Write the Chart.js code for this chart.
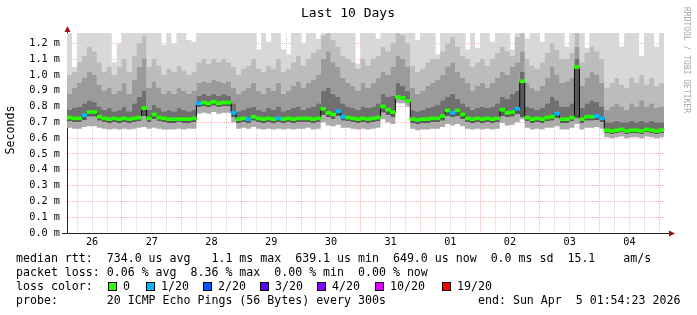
<!DOCTYPE html>
<html>
<head>
<meta charset="utf-8">
<script src="https://cdn.jsdelivr.net/npm/chart.js@4/dist/chart.umd.min.js"></script>
<style>
  html, body { margin: 0; padding: 0; background: #fff; }
  canvas { display: block; }
</style>
</head>
<body>
<canvas id="ping" width="697" height="315"></canvas>
<script>
/* ─── SmokePing style latency graph, last 10 days ─────────────────────────
 *  x axis: hours since start (Mar 26 01:54), one sample every 2 h
 *  y axis: milliseconds, labelled as "x.x m" (milliseconds of seconds)
 *  smoke = stacked grey bands of the ping spread, median coloured by loss
 * ─────────────────────────────────────────────────────────────────────── */

const TITLE = 'Last 10 Days';
const Y_TITLE = 'Seconds';
const WATERMARK = 'RRDTOOL / TOBI OETIKER';

const dayLabels = ['26', '27', '28', '29', '30', '31', '01', '02', '03', '04'];
const yTicks = [0, 0.1, 0.2, 0.3, 0.4, 0.5, 0.6, 0.7, 0.8, 0.9, 1.0, 1.1, 1.2];

// median rtt (ms)
const median = [
  0.73, 0.725, 0.725, 0.745, 0.765, 0.765, 0.735, 0.725, 0.72, 0.725,
  0.72, 0.725, 0.72, 0.725, 0.73, 0.79, 0.725, 0.75, 0.73, 0.725,
  0.72, 0.72, 0.72, 0.72, 0.72, 0.725, 0.82, 0.825, 0.82, 0.83,
  0.82, 0.825, 0.825, 0.76, 0.72, 0.725, 0.72, 0.735, 0.725, 0.72,
  0.725, 0.72, 0.725, 0.72, 0.725, 0.72, 0.725, 0.725, 0.725, 0.72,
  0.725, 0.785, 0.76, 0.75, 0.77, 0.735, 0.73, 0.725, 0.72, 0.725,
  0.72, 0.725, 0.73, 0.80, 0.78, 0.765, 0.86, 0.855, 0.835, 0.72,
  0.715, 0.72, 0.72, 0.725, 0.725, 0.74, 0.775, 0.76, 0.775, 0.75,
  0.725, 0.72, 0.725, 0.72, 0.725, 0.72, 0.725, 0.78, 0.76, 0.765,
  0.785, 0.96, 0.73, 0.72, 0.725, 0.72, 0.73, 0.735, 0.755, 0.72,
  0.72, 0.73, 1.05, 0.72, 0.735, 0.735, 0.74, 0.725, 0.65, 0.645,
  0.65, 0.655, 0.645, 0.65, 0.65, 0.645, 0.655, 0.65, 0.645, 0.65,
];

// lost pings out of 20
const loss = [
  0, 0, 0, 1, 0, 0, 0, 0, 0, 0, 0, 0, 0, 0, 0, 0, 0, 0, 0, 0,
  0, 0, 0, 0, 0, 0, 1, 0, 0, 0, 0, 0, 0, 1, 0, 0, 1, 0, 0, 0,
  0, 0, 1, 0, 0, 0, 0, 0, 0, 0, 0, 0, 0, 0, 1, 1, 0, 0, 0, 0,
  0, 0, 0, 0, 0, 0, 0, 0, 0, 0, 0, 0, 0, 0, 0, 0, 0, 1, 0, 0,
  0, 0, 0, 0, 0, 0, 0, 0, 0, 0, 1, 0, 0, 0, 0, 0, 0, 0, 1, 0,
  0, 0, 0, 0, 0, 0, 1, 1, 0, 0, 0, 0, 0, 0, 0, 0, 0, 0, 0, 0,
];

// smoke: lowest ping
const pingMin = [
  0.665, 0.66, 0.66, 0.67, 0.675, 0.675, 0.665, 0.66, 0.655, 0.66,
  0.655, 0.66, 0.655, 0.66, 0.665, 0.67, 0.66, 0.665, 0.66, 0.655,
  0.655, 0.655, 0.66, 0.655, 0.66, 0.66, 0.755, 0.76, 0.755, 0.765,
  0.755, 0.76, 0.76, 0.70, 0.66, 0.665, 0.66, 0.67, 0.66, 0.655,
  0.66, 0.655, 0.66, 0.655, 0.66, 0.655, 0.66, 0.66, 0.665, 0.655,
  0.66, 0.70, 0.68, 0.675, 0.685, 0.665, 0.665, 0.66, 0.655, 0.66,
  0.655, 0.66, 0.665, 0.72, 0.70, 0.69, 0.82, 0.82, 0.80, 0.66,
  0.65, 0.655, 0.655, 0.66, 0.66, 0.67, 0.69, 0.68, 0.69, 0.675,
  0.66, 0.655, 0.66, 0.655, 0.66, 0.655, 0.66, 0.695, 0.68, 0.685,
  0.70, 0.72, 0.665, 0.655, 0.66, 0.655, 0.665, 0.665, 0.675, 0.655,
  0.655, 0.665, 0.69, 0.655, 0.665, 0.665, 0.67, 0.66, 0.605, 0.60,
  0.605, 0.61, 0.60, 0.605, 0.605, 0.60, 0.61, 0.605, 0.60, 0.605,
];

// smoke: bottom of the dark band under the median
const pingLo = [
  0.705, 0.70, 0.70, 0.715, 0.735, 0.735, 0.71, 0.70, 0.695, 0.70,
  0.695, 0.70, 0.695, 0.70, 0.705, 0.74, 0.70, 0.72, 0.705, 0.70,
  0.695, 0.695, 0.70, 0.695, 0.695, 0.70, 0.795, 0.80, 0.795, 0.805,
  0.795, 0.80, 0.80, 0.73, 0.695, 0.70, 0.695, 0.71, 0.70, 0.695,
  0.70, 0.695, 0.70, 0.695, 0.70, 0.695, 0.70, 0.70, 0.70, 0.695,
  0.70, 0.745, 0.73, 0.72, 0.74, 0.71, 0.705, 0.70, 0.695, 0.70,
  0.695, 0.70, 0.705, 0.76, 0.745, 0.73, 0.845, 0.84, 0.82, 0.695,
  0.69, 0.695, 0.695, 0.70, 0.70, 0.71, 0.74, 0.73, 0.74, 0.72,
  0.70, 0.695, 0.70, 0.695, 0.70, 0.695, 0.70, 0.74, 0.73, 0.735,
  0.75, 0.73, 0.705, 0.695, 0.70, 0.695, 0.705, 0.71, 0.725, 0.695,
  0.695, 0.705, 0.725, 0.695, 0.71, 0.71, 0.715, 0.70, 0.63, 0.625,
  0.63, 0.635, 0.625, 0.63, 0.63, 0.625, 0.635, 0.63, 0.625, 0.63,
];

// smoke: top of the dark band over the median
const pingHi1 = [
  0.78, 0.79, 0.80, 0.82, 0.84, 0.83, 0.80, 0.78, 0.79, 0.77,
  0.78, 0.80, 0.77, 0.82, 0.86, 0.90, 0.78, 0.81, 0.79, 0.77,
  0.78, 0.77, 0.79, 0.78, 0.77, 0.78, 0.87, 0.88, 0.87, 0.88,
  0.87, 0.88, 0.87, 0.82, 0.77, 0.78, 0.79, 0.80, 0.78, 0.77,
  0.79, 0.78, 0.80, 0.77, 0.78, 0.79, 0.80, 0.78, 0.79, 0.80,
  0.82, 0.90, 0.92, 0.88, 0.86, 0.82, 0.80, 0.79, 0.78, 0.80,
  0.79, 0.80, 0.82, 0.88, 0.86, 0.87, 0.95, 0.93, 0.90, 0.78,
  0.77, 0.78, 0.79, 0.80, 0.81, 0.84, 0.86, 0.88, 0.85, 0.82,
  0.80, 0.78, 0.79, 0.80, 0.79, 0.80, 0.82, 0.86, 0.85, 0.88,
  0.90, 1.02, 0.80, 0.79, 0.78, 0.79, 0.82, 0.86, 0.84, 0.80,
  0.80, 0.82, 1.10, 0.79, 0.82, 0.84, 0.83, 0.80, 0.70, 0.70,
  0.71, 0.70, 0.70, 0.71, 0.70, 0.71, 0.70, 0.71, 0.70, 0.70,
];

// smoke: top of the medium grey band
const pingHi2 = [
  0.88, 0.92, 0.95, 0.98, 1.02, 1.00, 0.94, 0.90, 0.92, 0.88,
  0.90, 0.95, 0.88, 0.97, 1.05, 1.10, 0.92, 0.96, 0.92, 0.88,
  0.90, 0.88, 0.92, 0.90, 0.88, 0.90, 0.95, 0.96, 0.95, 0.97,
  0.96, 0.95, 0.96, 0.92, 0.88, 0.90, 0.92, 0.95, 0.90, 0.88,
  0.92, 0.90, 0.95, 0.88, 0.90, 0.93, 0.96, 0.92, 0.95, 0.97,
  1.00, 1.10, 1.15, 1.08, 1.05, 0.98, 0.95, 0.93, 0.90, 0.95,
  0.92, 0.95, 0.98, 1.02, 1.00, 1.05, 1.12, 1.10, 1.05, 0.92,
  0.88, 0.90, 0.93, 0.95, 0.97, 1.00, 1.05, 1.08, 1.02, 0.98,
  0.95, 0.90, 0.93, 0.95, 0.92, 0.95, 0.98, 1.02, 1.00, 1.05,
  1.08, 1.15, 0.95, 0.92, 0.90, 0.93, 0.98, 1.05, 1.00, 0.95,
  0.96, 0.98, 1.18, 0.93, 0.98, 1.02, 1.00, 0.95, 0.78, 0.80,
  0.82, 0.80, 0.78, 0.82, 0.80, 0.84, 0.80, 0.82, 0.79, 0.80,
];

// smoke: top of the light grey band
const pingHi3 = [
  1.00, 1.02, 1.08, 1.12, 1.18, 1.15, 1.08, 1.02, 1.05, 1.00,
  1.05, 1.10, 1.02, 1.12, 1.20, 1.25, 1.05, 1.10, 1.06, 1.00,
  1.04, 1.02, 1.06, 1.03, 1.00, 1.02, 1.08, 1.10, 1.07, 1.10,
  1.08, 1.10, 1.08, 1.05, 1.00, 1.04, 1.06, 1.10, 1.04, 1.02,
  1.06, 1.04, 1.10, 1.02, 1.04, 1.08, 1.12, 1.06, 1.10, 1.14,
  1.16, 1.25, 1.27, 1.22, 1.18, 1.12, 1.10, 1.08, 1.04, 1.10,
  1.06, 1.10, 1.12, 1.18, 1.15, 1.20, 1.27, 1.25, 1.20, 1.06,
  1.02, 1.04, 1.08, 1.10, 1.10, 1.15, 1.20, 1.24, 1.18, 1.12,
  1.10, 1.05, 1.08, 1.10, 1.06, 1.10, 1.14, 1.18, 1.15, 1.12,
  1.24, 1.27, 1.10, 1.06, 1.04, 1.08, 1.14, 1.20, 1.16, 1.10,
  1.10, 1.14, 1.27, 1.08, 1.14, 1.18, 1.15, 1.10, 0.92, 0.95,
  0.98, 0.94, 0.92, 0.98, 0.95, 1.00, 0.94, 0.98, 0.93, 0.95,
];

// smoke: highest ping (mostly above the top of the graph)
const pingMax = [
  1.3, 1.05, 1.3, 1.3, 1.3, 1.3, 1.3, 1.3, 1.3, 1.08,
  1.2, 1.3, 1.3, 1.3, 1.3, 1.3, 1.3, 1.3, 1.3, 1.19,
  1.3, 1.2, 1.3, 1.3, 1.22, 1.21, 1.3, 1.3, 1.3, 1.3,
  1.3, 1.3, 1.3, 1.3, 1.3, 1.3, 1.3, 1.3, 1.16, 1.3,
  1.21, 1.3, 1.3, 1.16, 1.13, 1.3, 1.3, 1.2, 1.3, 1.3,
  1.23, 1.3, 1.3, 1.3, 1.3, 1.3, 1.3, 1.3, 1.07, 1.3,
  1.3, 1.3, 1.23, 1.3, 1.3, 1.3, 1.3, 1.3, 1.3, 1.3,
  1.22, 1.3, 1.3, 1.3, 1.13, 1.3, 1.3, 1.3, 1.3, 1.3,
  1.16, 1.3, 1.17, 1.3, 1.3, 1.21, 1.3, 1.3, 1.3, 1.16,
  1.3, 1.3, 1.23, 1.3, 1.3, 1.21, 1.3, 1.3, 1.3, 1.3,
  1.18, 1.3, 1.3, 1.3, 1.17, 1.3, 1.3, 1.3, 1.3, 1.3,
  1.3, 1.18, 1.3, 1.3, 1.3, 1.12, 1.3, 1.3, 1.18, 1.3,
];

const lossSteps = [0, 1, 2, 3, 4, 10, 19];
const lossLabels = ['0', '1/20', '2/20', '3/20', '4/20', '10/20', '19/20'];
const lossColors = ['#26ff00', '#00b8ff', '#0059ff', '#5e00ff', '#7e00ff', '#dd00ff', '#ff0000'];

const statsRtt = 'median rtt:  734.0 us avg   1.1 ms max  639.1 us min  649.0 us now  0.0 ms sd  15.1    am/s';
const statsLoss = 'packet loss: 0.06 % avg  8.36 % max  0.00 % min  0.00 % now';
const probeText = 'probe:       20 ICMP Echo Pings (56 Bytes) every 300s';
const endText = 'end: Sun Apr  5 01:54:23 2026';

/* ── helpers ───────────────────────────────────────────────────────────── */
const FONT = '"DejaVu Sans Mono", monospace';
const STEP_H = 2;          // hours per sample
const SPAN_H = 240;        // 10 days
const FIRST_GRID_H = 4.093; // 06:00 on the 26th, hours after start
const GRID_RED = 'rgba(215,90,90,0.42)';
const GRID_GREY = 'rgba(150,150,150,0.42)';

function stepPoints(arr) {
  const pts = arr.map((v, i) => ({ x: i * STEP_H, y: v }));
  pts.push({ x: arr.length * STEP_H, y: arr[arr.length - 1] });
  return pts;
}

function smoke(arr, color, fill) {
  return {
    type: 'line', data: stepPoints(arr), stepped: 'before',
    fill: fill, backgroundColor: color,
    borderColor: 'transparent', borderWidth: 0, pointRadius: 0,
  };
}

function lossColor(n) {
  let c = lossColors[0];
  lossSteps.forEach((s, i) => { if (n >= s) c = lossColors[i]; });
  return c;
}

/* ── decorations drawn straight on the canvas ──────────────────────────── */
const decor = {
  id: 'decor',
  beforeDraw(chart) {
    const ctx = chart.ctx;
    ctx.save();
    ctx.fillStyle = '#fff';
    ctx.fillRect(0, 0, chart.width, chart.height);
    ctx.restore();
  },
  afterDraw(chart) {
    const ctx = chart.ctx;
    const a = chart.chartArea;
    ctx.save();

    // axis extensions and arrows
    ctx.strokeStyle = '#222';
    ctx.lineWidth = 1;
    ctx.beginPath();
    ctx.moveTo(a.left - 5, a.bottom + 0.5);
    ctx.lineTo(a.right + 6, a.bottom + 0.5);
    ctx.moveTo(a.left + 0.5, a.top);
    ctx.lineTo(a.left + 0.5, a.top - 3);
    ctx.stroke();
    ctx.fillStyle = '#a01414';
    ctx.beginPath();
    ctx.moveTo(a.right + 11, a.bottom + 0.5);
    ctx.lineTo(a.right + 5, a.bottom - 2.5);
    ctx.lineTo(a.right + 5, a.bottom + 3.5);
    ctx.closePath();
    ctx.fill();
    ctx.beginPath();
    ctx.moveTo(a.left + 0.5, a.top - 7);
    ctx.lineTo(a.left - 2.5, a.top - 1);
    ctx.lineTo(a.left + 3.5, a.top - 1);
    ctx.closePath();
    ctx.fill();

    // title
    ctx.fillStyle = '#000';
    ctx.textBaseline = 'middle';
    ctx.textAlign = 'center';
    ctx.font = '13px ' + FONT;
    ctx.fillText(TITLE, 348, 14);

    // y axis title
    ctx.save();
    ctx.translate(11, 130);
    ctx.rotate(-Math.PI / 2);
    ctx.font = '11.6px ' + FONT;
    ctx.fillText(Y_TITLE, 0, 0);
    ctx.restore();

    // watermark
    ctx.save();
    ctx.translate(686, 60);
    ctx.rotate(Math.PI / 2);
    ctx.font = '8px ' + FONT;
    ctx.fillStyle = '#a8a8a8';
    ctx.fillText(WATERMARK, 0, 0);
    ctx.restore();

    // legend block
    ctx.textAlign = 'left';
    ctx.font = '11.6px ' + FONT;
    ctx.fillText(statsRtt, 16, 259);
    ctx.fillText(statsLoss, 16, 273);
    ctx.fillText('loss color:', 16, 287);
    const boxX = [108, 146, 203, 260, 317, 375, 442];
    lossLabels.forEach((lbl, i) => {
      ctx.fillStyle = lossColors[i];
      ctx.fillRect(boxX[i], 282, 9, 9);
      ctx.strokeStyle = '#000';
      ctx.strokeRect(boxX[i] + 0.5, 282.5, 8, 8);
      ctx.fillStyle = '#000';
      ctx.fillText(lbl, boxX[i] + 15, 287);
    });
    ctx.fillText(probeText, 16, 301);
    ctx.fillText(endText, 478, 301);

    ctx.restore();
  },
};

/* ── chart ─────────────────────────────────────────────────────────────── */
new Chart(document.getElementById('ping'), {
  type: 'line',
  data: {
    datasets: [
      smoke(pingMin, 'transparent', false),
      smoke(pingLo, '#acacac', '-1'),
      smoke(median, '#5a5a5a', '-1'),
      smoke(pingHi1, '#707070', '-1'),
      smoke(pingHi2, '#9b9b9b', '-1'),
      smoke(pingHi3, '#bcbcbc', '-1'),
      smoke(pingMax, '#d8d8d8', '-1'),
      {
        type: 'line', data: stepPoints(median), stepped: 'before', fill: false,
        borderColor: '#000', borderWidth: 1, pointRadius: 0, order: -1,
      },
      {
        type: 'bar',
        data: median.map((v, i) => ({ x: i * STEP_H + STEP_H / 2, y: [v - 0.0095, v + 0.0095] })),
        backgroundColor: loss.map(lossColor),
        borderWidth: 0, barPercentage: 1, categoryPercentage: 1, grouped: false, order: -2,
      },
    ],
  },
  options: {
    responsive: false,
    animation: false,
    events: [],
    layout: { padding: { top: 33, right: 33, bottom: 62, left: 0 } },
    plugins: { legend: { display: false }, tooltip: { enabled: false }, title: { display: false } },
    scales: {
      x: {
        type: 'linear', min: 0, max: SPAN_H, offset: false, z: 1,
        afterFit: s => { s.height = 20; },
        afterBuildTicks: s => {
          const t = [];
          for (let h = FIRST_GRID_H; h < SPAN_H; h += 6) t.push({ value: h });
          s.ticks = t;
        },
        grid: {
          offset: false, drawTicks: false,
          color: c => (c.index % 4 === 3 ? GRID_RED : GRID_GREY),
        },
        border: { display: true, color: '#222', dash: [1, 1] },
        ticks: {
          autoSkip: false, maxRotation: 0, padding: 3, color: '#000',
          font: { family: 'DejaVu Sans Mono', size: 10.2 },
          callback: (v, i) => (i % 4 === 1 ? dayLabels[(i - 1) / 4] : ''),
        },
      },
      y: {
        type: 'linear', min: 0, max: 1.265, z: 1,
        afterFit: s => { s.width = 67; },
        afterBuildTicks: s => { s.ticks = yTicks.map(v => ({ value: v })); },
        grid: { drawTicks: false, color: GRID_RED },
        border: { display: true, color: '#222', dash: [1, 1] },
        ticks: {
          padding: 7, color: '#000',
          font: { family: 'DejaVu Sans Mono', size: 10.2 },
          callback: v => v.toFixed(1) + ' m',
        },
      },
    },
  },
  plugins: [decor],
});
</script>
</body>
</html>
